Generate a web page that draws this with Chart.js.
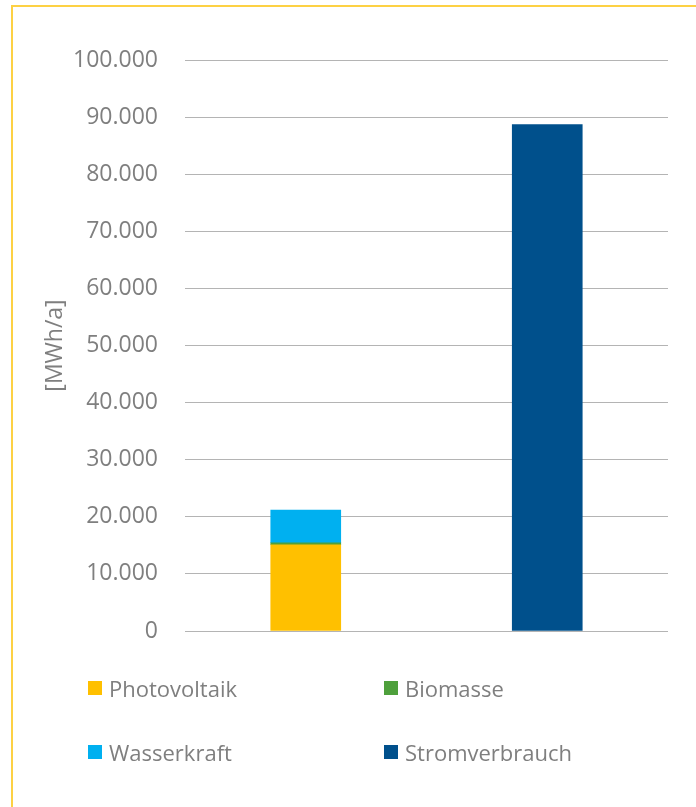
<!DOCTYPE html>
<html>
<head>
<meta charset="utf-8">
<script src="https://cdn.jsdelivr.net/npm/chart.js@4/dist/chart.umd.min.js"></script>
<style>
  body { margin: 0; background: #fff; width: 696px; height: 807px; overflow: hidden; }
  #rahmen { position: absolute; left: 11px; top: 5px; width: 685px; height: 802px;
            border-top: 2px solid #fdd144; border-left: 2px solid #fdd144; box-sizing: border-box; }
  #diagramm { position: absolute; left: 0; top: 0; }
  .leg { position: absolute; font: 22px "Open Sans"; color: #7f7f7f; line-height: 30px;
         display: flex; align-items: center; white-space: nowrap; }
  .leg .box { width: 14px; height: 14px; margin-right: 7px; }
</style>
</head>
<body>
<div id="rahmen"></div>
<canvas id="diagramm" width="696" height="807"></canvas>
<div id="legende"></div>
<script>
// Werte (MWh/a)
const kategorien = ['Erzeugung', 'Verbrauch'];
const photovoltaik = [15100, null];
const biomasse = [350, null];
const wasserkraft = [5740, null];
const stromverbrauch = [null, 88670];

const serien = ['Photovoltaik', 'Biomasse', 'Wasserkraft', 'Stromverbrauch'];
const farben = ['#ffc000', '#4ea03c', '#00b0f0', '#00508c'];

const yMax = 100000;
const ySchritt = 10000;

// Tausenderpunkt wie im Original
const formatiere = (v) => String(v).replace(/\B(?=(\d{3})+(?!\d))/g, '.');

const werte = [photovoltaik, biomasse, wasserkraft, stromverbrauch];

const ctx = document.getElementById('diagramm');
new Chart(ctx, {
  type: 'bar',
  data: {
    labels: kategorien,
    datasets: serien.map((name, i) => ({
      label: name,
      data: werte[i],
      backgroundColor: farben[i],
      borderWidth: 0,
      barThickness: 70
    }))
  },
  options: {
    responsive: false,
    animation: false,
    layout: { padding: { top: 60, right: 28, bottom: 176, left: 0 } },
    plugins: { legend: { display: false }, tooltip: { enabled: false } },
    scales: {
      x: { display: false, stacked: true },
      y: {
        stacked: true,
        min: 0,
        max: yMax,
        ticks: {
          stepSize: ySchritt,
          padding: 27,
          color: '#7f7f7f',
          font: { family: 'Open Sans', size: 23 },
          callback: (v) => formatiere(v)
        },
        grid: { color: '#b4b4b4', lineWidth: 1, drawTicks: false },
        border: { display: false },
        title: {
          display: true,
          text: '[MWh/a]',
          color: '#7f7f7f',
          font: { family: 'Open Sans', size: 23 },
          padding: { top: 42, bottom: 0 }
        },
        afterFit: (s) => { s.width = 185; }
      }
    }
  }
});

// Legende in zwei Spalten
const legende = document.getElementById('legende');
const spalten = [88, 384];
const zeilen = [673, 737];
serien.forEach((name, i) => {
  const el = document.createElement('div');
  el.className = 'leg';
  el.style.left = spalten[i % 2] + 'px';
  el.style.top = zeilen[Math.floor(i / 2)] + 'px';
  el.innerHTML = '<span class="box" style="background:' + farben[i] + '"></span>' + name;
  legende.appendChild(el);
});
</script>
</body>
</html>
